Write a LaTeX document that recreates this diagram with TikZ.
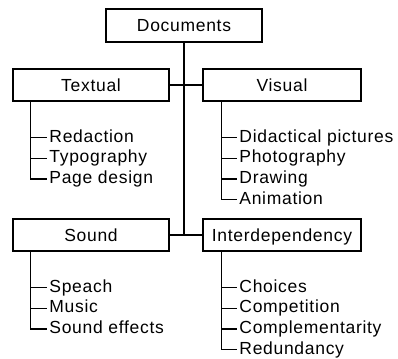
\documentclass[tikz,border=0pt]{standalone}
\usepackage{fontspec}
\setmainfont{Liberation Sans}[LetterSpace=4]
\usetikzlibrary{positioning}

\begin{document}
\begin{tikzpicture}[x=1pt,y=1pt,node distance=0.7pt,line width=1.1pt]

      \tikzstyle{every node}=[font=\fontsize{17.5}{20}\selectfont]
      \tikzstyle{head}=[draw,shape=rectangle,minimum width=156pt,minimum height=32pt,inner sep=0pt,text height=12.5pt,text depth=0pt,align=center]
      \tikzstyle{leaf}=[inner sep=2pt,outer sep=0pt,text height=12.5pt,text depth=3.5pt]

      \useasboundingbox[fill=white] (0,0) rectangle (398,-358);

      \node[head,minimum height=33pt] (doc) at (184,-25.5) {Documents};
      \node[head] (txt) at (91,-85) {Textual};
      \node[head,minimum width=158pt] (vis) at (282,-85) {Visual};
      \node[head] (snd) at (91,-235) {Sound};
      \node[head,minimum width=158pt] (itd) at (282,-235) {Interdependency};

      % textual
      \node[leaf, below=26pt of txt.south west, anchor=north west, xshift=35pt] (red) {Redaction};
      \node[leaf] (typ) [below=of red.south west, anchor=north west] {Typography};
      \node[leaf] (pag) [below=of typ.south west, anchor=north west] {Page design};

      % visual
      \node[leaf, below=26pt of vis.south west, anchor=north west, xshift=35pt] (did) {Didactical pictures};
      \node[leaf] (pho) [below=of did.south west, anchor=north west] {Photography};
      \node[leaf] (dra) [below=of pho.south west, anchor=north west] {Drawing};
      \node[leaf] (ani) [below=of dra.south west, anchor=north west] {Animation};

      % sound
      \node[leaf, below=26pt of snd.south west, anchor=north west, xshift=35pt] (spe) {Speach};
      \node[leaf] (mus) [below=of spe.south west, anchor=north west] {Music};
      \node[leaf] (eff) [below=of mus.south west, anchor=north west] {Sound effects};

      % interdependency
      \node[leaf, below=26pt of itd.south west, anchor=north west, xshift=35pt] (cho) {Choices};
      \node[leaf] (com) [below=of cho.south west, anchor=north west] {Competition};
      \node[leaf] (cpl) [below=of com.south west, anchor=north west] {Complementarity};
      \node[leaf] (rdd) [below=of cpl.south west, anchor=north west] {Redundancy};

      \coordinate (txtbar) at ([xshift=18pt]txt.south west);
      \coordinate (visbar) at ([xshift=19pt]vis.south west);
      \coordinate (sndbar) at ([xshift=18pt]snd.south west);
      \coordinate (itdbar) at ([xshift=19pt]itd.south west);

      \draw (doc.south) -- (doc.south |- snd.east);
      \draw (txt.east) -- (vis.west);
      \draw (snd.east) -- (itd.west);

      \draw (txtbar) |- (pag.west);
      \draw (txtbar |- red.west) -- (red.west);
      \draw (txtbar |- typ.west) -- (typ.west);

      \draw (visbar) |- (ani.west);
      \draw (visbar |- did.west) -- (did.west);
      \draw (visbar |- pho.west) -- (pho.west);
      \draw (visbar |- dra.west) -- (dra.west);

      \draw (sndbar) |- (eff.west);
      \draw (sndbar |- spe.west) -- (spe.west);
      \draw (sndbar |- mus.west) -- (mus.west);

      \draw (itdbar) |- (rdd.west);
      \draw (itdbar |- cho.west) -- (cho.west);
      \draw (itdbar |- com.west) -- (com.west);
      \draw (itdbar |- cpl.west) -- (cpl.west);
    \end{tikzpicture}
\end{document}
